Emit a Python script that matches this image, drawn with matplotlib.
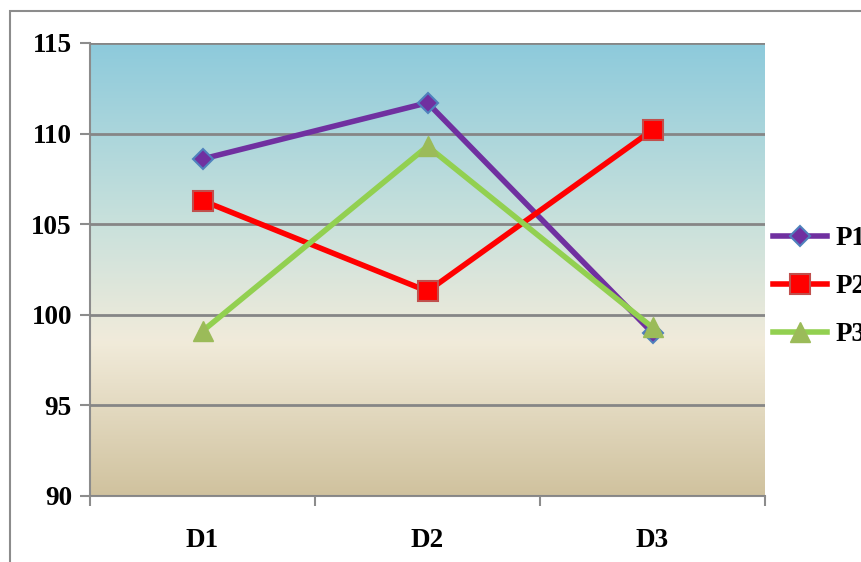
import numpy as np
import matplotlib.pyplot as plt
from matplotlib.colors import LinearSegmentedColormap
from matplotlib.patches import Rectangle

# Series values per day
days = ['D1', 'D2', 'D3']
p1 = [108.6, 111.7, 99.0]
p2 = [106.3, 101.3, 110.2]
p3 = [99.1, 109.3, 99.3]
yticks = [90, 95, 100, 105, 110, 115]

plt.rcParams['font.family'] = ['Liberation Serif', 'DejaVu Serif']
plt.rcParams['font.weight'] = 'bold'

fig = plt.figure(figsize=(8.61, 5.62), dpi=100)
W, H = 861, 562
ax = fig.add_axes([90 / W, 1 - 496 / H, 675 / W, 453 / H])

# outer chart frame (runs off the right and bottom edges)
fig.patches.append(Rectangle((10 / W, -0.05), 1.0, 1 - 11 / H + 0.05,
                             transform=fig.transFigure, fill=False,
                             edgecolor='#8c8c8c', linewidth=1.5, zorder=0))

# vertical gradient background: blue sky fading to sand
grad = LinearSegmentedColormap.from_list(
    'bg', [(0.0, '#d0c29e'), (0.34, '#f1ebda'), (0.62, '#c6e0dc'), (1.0, '#8dcadb')])
ax.imshow(np.linspace(0, 1, 256).reshape(-1, 1), cmap=grad, origin='lower',
          extent=[0, 3, 90, 115], aspect='auto', zorder=0)

x = np.arange(len(days)) + 0.5
ax.plot(x, p1, color='#7030a0', lw=4, marker='D', ms=10,
        mfc='#7030a0', mec='#4f81bd', mew=1.5, label='P1', zorder=3)
ax.plot(x, p2, color='#ff0000', lw=4, marker='s', ms=14,
        mfc='#ff0000', mec='#c0504d', mew=1.5, label='P2', zorder=3)
ax.plot(x, p3, color='#92d050', lw=4, marker='^', ms=15,
        mfc='#9bbb59', mec='#9bbb59', mew=1, label='P3', zorder=3)

ax.set_xlim(0, 3)
ax.set_ylim(90, 115)
ax.set_yticks(yticks)
ax.set_yticklabels([str(v) for v in yticks], fontsize=19.5)
ax.yaxis.grid(True, color='#868686', lw=2, zorder=1)
ax.set_axisbelow(False)

ax.set_xticks([0, 1, 2, 3])
ax.set_xticklabels([])
ax.set_xticks(x, minor=True)
ax.set_xticklabels(days, minor=True, fontsize=19.5)
ax.tick_params(axis='x', which='minor', length=0, pad=23)
ax.tick_params(axis='both', which='major', length=7, width=1.5, color='#8c8c8c', pad=6)

for side in ['top', 'right']:
    ax.spines[side].set_visible(False)
for side in ['left', 'bottom']:
    ax.spines[side].set_color('#8c8c8c')
    ax.spines[side].set_linewidth(1.5)

leg = fig.legend(loc='center left', bbox_to_anchor=(773 / W, 1 - 286.5 / H),
                 bbox_transform=fig.transFigure, frameon=False,
                 prop={'size': 19.5, 'weight': 'bold'}, handlelength=2.0,
                 labelspacing=0.85, handletextpad=0.3, borderaxespad=0,
                 borderpad=0)

fig.savefig('out.png', dpi=100)
